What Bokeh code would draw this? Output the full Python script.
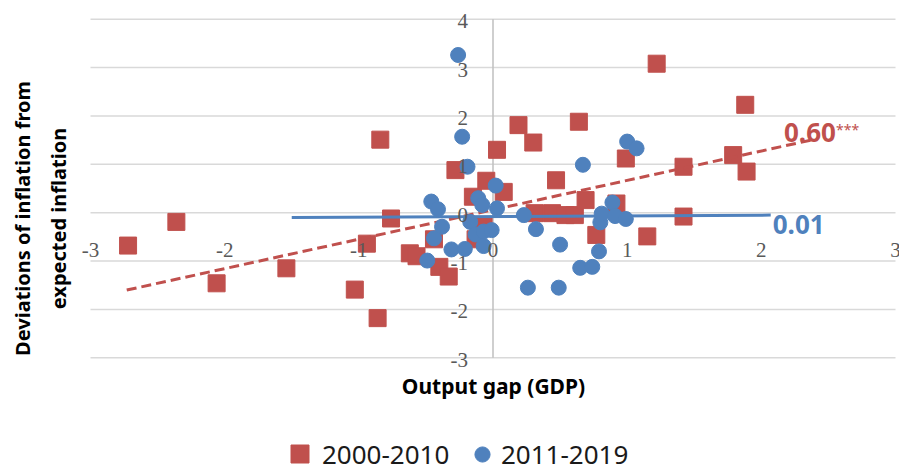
import numpy as np
from bokeh.plotting import figure
from bokeh.models import (ColumnDataSource, LabelSet, Label, Legend, LegendItem)
from bokeh.embed import file_html
from bokeh.resources import INLINE

# ---- data ----
red_x = [-2.72, -2.36, -2.06, -1.54, -1.03, -0.94, -0.86, -0.84, -0.76, -0.62,
         -0.57, -0.44, -0.40, -0.33, -0.28, -0.15, -0.13, -0.07, -0.05, 0.03,
         0.08, 0.19, 0.30, 0.31, 0.44, 0.47, 0.54, 0.61, 0.64, 0.69,
         0.77, 0.92, 0.99, 1.15, 1.22, 1.42, 1.42, 1.79, 1.88, 1.89]
red_y = [-0.68, -0.19, -1.46, -1.15, -1.59, -0.64, -2.18, 1.51, -0.12, -0.84,
         -0.90, -0.55, -1.12, -1.32, 0.88, 0.33, -0.55, -0.28, 0.66, 1.30,
         0.43, 1.81, 1.45, -0.01, -0.01, 0.67, -0.05, -0.05, 1.88, 0.26,
         -0.46, 0.19, 1.12, -0.49, 3.08, 0.95, -0.08, 1.19, 2.23, 0.85]

blue_x = [-0.49, -0.46, -0.41, -0.44, -0.38, -0.31, -0.26, -0.23, -0.21, -0.19,
          -0.17, -0.13, -0.11, -0.08, -0.07, -0.07, -0.01, 0.02, 0.03, 0.23,
          0.26, 0.32, 0.49, 0.50, 0.65, 0.67, 0.74, 0.79, 0.80, 0.81,
          0.89, 0.91, 0.99, 1.00, 1.07]
blue_y = [-0.99, 0.23, 0.07, -0.53, -0.29, -0.76, 3.26, 1.57, -0.75, 0.95,
          -0.19, -0.45, 0.30, 0.16, -0.39, -0.69, -0.36, 0.56, 0.09, -0.05,
          -1.55, -0.34, -1.55, -0.66, -1.14, 0.99, -1.12, -0.80, -0.20, -0.02,
          0.21, -0.07, -0.13, 1.47, 1.33]

trend_red_x = [-2.73, 2.37]
trend_red_y = [-1.60, 1.50]
trend_blue_x = [-1.50, 2.07]
trend_blue_y = [-0.10, -0.05]

x_ticks = [-3, -2, -1, 0, 1, 2, 3]
y_ticks = [-3, -2, -1, 0, 1, 2, 3, 4]
series_names = ["2000-2010", "2011-2019"]
red_coef = "0.60"
red_stars = "***"
blue_coef = "0.01"
x_title = "Output gap (GDP)"
y_title = ["Deviations of inflation from", "expected inflation"]

RED = "#C0504D"
BLUE = "#4F81BD"
FONT = "Noto Sans"

# plot area spans x -3..3 and y -3..4; the frame is extended so that
# titles and legend (outside the plot area) are not clipped
X0, X1 = min(x_ticks), max(x_ticks)
Y0, Y1 = min(y_ticks), max(y_ticks)

p = figure(width=899, height=471, x_range=(-3.6708, 3.0298), y_range=(-5.3506, 4.3866),
           output_backend="svg", toolbar_location=None,
           min_border_left=0, min_border_right=0, min_border_top=0, min_border_bottom=0)
p.axis.visible = False
p.grid.visible = False
p.outline_line_color = None
p.background_fill_color = "white"
p.border_fill_color = "white"

# gridlines and vertical axis
p.segment(x0=[X0] * len(y_ticks), x1=[X1] * len(y_ticks), y0=y_ticks, y1=y_ticks,
          line_color="#D9D9D9", line_width=1.4)
p.segment(x0=[0], x1=[0], y0=[Y0], y1=[Y1], line_color="#BFBFBF", line_width=1.5)

r_red = p.scatter(red_x, red_y, marker="square", size=17,
                  fill_color=RED, line_color=RED)
p.line(trend_red_x, trend_red_y, line_color=RED, line_width=3, line_dash="10 5")
p.line(trend_blue_x, trend_blue_y, line_color=BLUE, line_width=3)
r_blue = p.scatter(blue_x, blue_y, marker="circle", size=15,
                   fill_color=BLUE, line_color=BLUE)

# tick labels
xt = ColumnDataSource(dict(x=x_ticks, y=[0] * len(x_ticks), text=[str(t) for t in x_ticks]))
p.add_layout(LabelSet(x="x", y="y", text="text", source=xt, text_align="center",
                      text_baseline="alphabetic", y_offset=-44, text_font_size="21px",
                      text_color="#595959", text_font=FONT))
yt = ColumnDataSource(dict(x=[0] * len(y_ticks), y=y_ticks, text=[str(t) for t in y_ticks]))
p.add_layout(LabelSet(x="x", y="y", text="text", source=yt, text_align="right",
                      text_baseline="alphabetic", x_offset=-25, y_offset=-9,
                      text_font_size="21px", text_color="#595959", text_font=FONT))

# trend coefficients
p.add_layout(Label(x=trend_red_x[-1], y=trend_red_y[-1], x_offset=-27, y_offset=8,
                   text=red_coef, text_font=FONT, text_font_size="26px",
                   text_font_style="bold", text_color=RED, text_baseline="alphabetic"))
p.add_layout(Label(x=trend_red_x[-1], y=trend_red_y[-1], x_offset=25, y_offset=11,
                   text=red_stars, text_font=FONT, text_font_size="14px",
                   text_color=RED, text_baseline="alphabetic"))
p.add_layout(Label(x=trend_blue_x[-1], y=trend_blue_y[-1], x_offset=2, y_offset=-9,
                   text=blue_coef, text_font=FONT, text_font_size="26px",
                   text_font_style="bold", text_color=BLUE, text_baseline="alphabetic"))

# axis titles (screen units from frame bottom-left)
p.add_layout(Label(x=493, y=86, x_units="screen", y_units="screen", text=x_title,
                   text_font=FONT, text_font_size="21px", text_font_style="bold",
                   text_color="black", text_align="center", text_baseline="alphabetic"))
p.add_layout(Label(x=22, y=253, x_units="screen", y_units="screen", text=y_title[0],
                   angle=np.pi / 2, text_font=FONT, text_font_size="20px",
                   text_font_style="bold", text_color="black", text_align="center",
                   text_baseline="alphabetic"))
p.add_layout(Label(x=58, y=253, x_units="screen", y_units="screen", text=y_title[1],
                   angle=np.pi / 2, text_font=FONT, text_font_size="20px",
                   text_font_style="bold", text_color="black", text_align="center",
                   text_baseline="alphabetic"))

# legends
common = dict(padding=0, margin=0, border_line_color=None, background_fill_alpha=0,
              label_text_font=FONT, label_text_font_size="26px",
              label_text_color="#1a1a1a", orientation="horizontal")
leg1 = Legend(items=[LegendItem(label=series_names[0], renderers=[r_red])],
              location=(277, -5), glyph_width=45, glyph_height=45,
              label_standoff=-11, **common)
leg2 = Legend(items=[LegendItem(label=series_names[1], renderers=[r_blue])],
              location=(463, -2), glyph_width=38, glyph_height=38,
              label_standoff=-6, **common)
p.add_layout(leg1)
p.add_layout(leg2)

open("out.html", "w").write(file_html(p, INLINE))
